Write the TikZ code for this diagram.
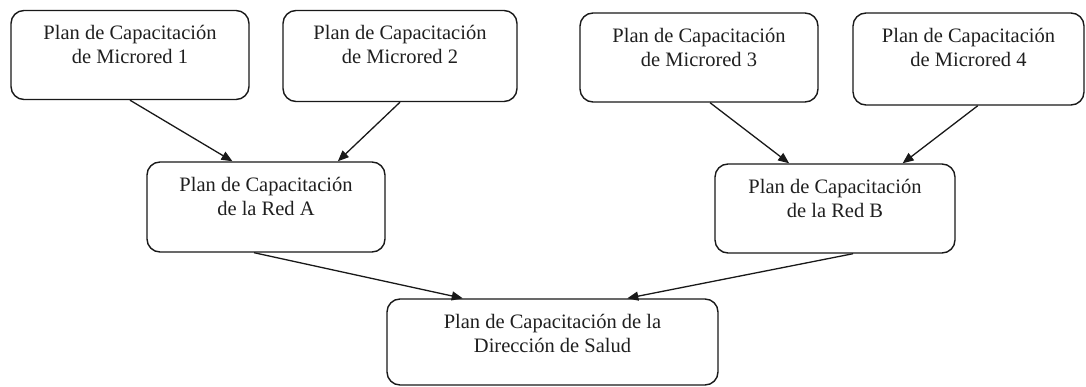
\documentclass[tikz,border=0pt]{standalone}
\usepackage{fontspec}
\setmainfont{Liberation Serif}
\usetikzlibrary{arrows.meta,calc}
\newcommand{\bxt}[3]{\parbox[c][#2][t]{#1}{\centering\vspace*{15pt}#3}}
\tikzset{
  plan/.style={draw=black!90, line width=1.4pt, rounded corners=13pt, inner sep=0pt, text=black!88,
    font=\fontsize{20.5}{24}\selectfont},
  conn/.style={draw=black!90, line width=1.3pt, -{Triangle[length=11pt,width=9pt]}}
}
\begin{document}
\begin{tikzpicture}[x=1pt,y=-1pt]
\useasboundingbox (0,0) rectangle (1086,387);
\node[plan] (m1) at (130,55) {\bxt{238pt}{89pt}{Plan de Capacitación\\de Microred 1}};
\node[plan] (m2) at (400,56) {\bxt{234pt}{91pt}{Plan de Capacitación\\de Microred 2}};
\node[plan] (m3) at (699,57.5) {\bxt{238pt}{89pt}{Plan de Capacitación\\de Microred 3}};
\node[plan] (m4) at (968.5,59) {\bxt{231pt}{92pt}{Plan de Capacitación\\de Microred 4}};
\node[plan] (ra) at (266,207) {\bxt{238pt}{90pt}{Plan de Capacitación\\de la Red A}};
\node[plan] (rb) at (835,208.5) {\bxt{240pt}{89pt}{Plan de Capacitación\\de la Red B}};
\node[plan] (d) at (552.5,342) {\bxt{331pt}{86pt}{Plan de Capacitación de la\\Dirección de Salud}};
\draw[conn] (m1.south) -- ($(ra.north west)!0.36!(ra.north east)$);
\draw[conn] (m2.south) -- ($(ra.north west)!0.80!(ra.north east)$);
\draw[conn] ($(m3.south west)!0.546!(m3.south east)$) -- ($(rb.north west)!0.31!(rb.north east)$);
\draw[conn] ($(m4.south west)!0.54!(m4.south east)$) -- ($(rb.north west)!0.78!(rb.north east)$);
\draw[conn] ($(ra.south west)!0.45!(ra.south east)$) -- ($(d.north west)!0.23!(d.north east)$);
\draw[conn] ($(rb.south west)!0.575!(rb.south east)$) -- ($(d.north west)!0.725!(d.north east)$);
\end{tikzpicture}
\end{document}
